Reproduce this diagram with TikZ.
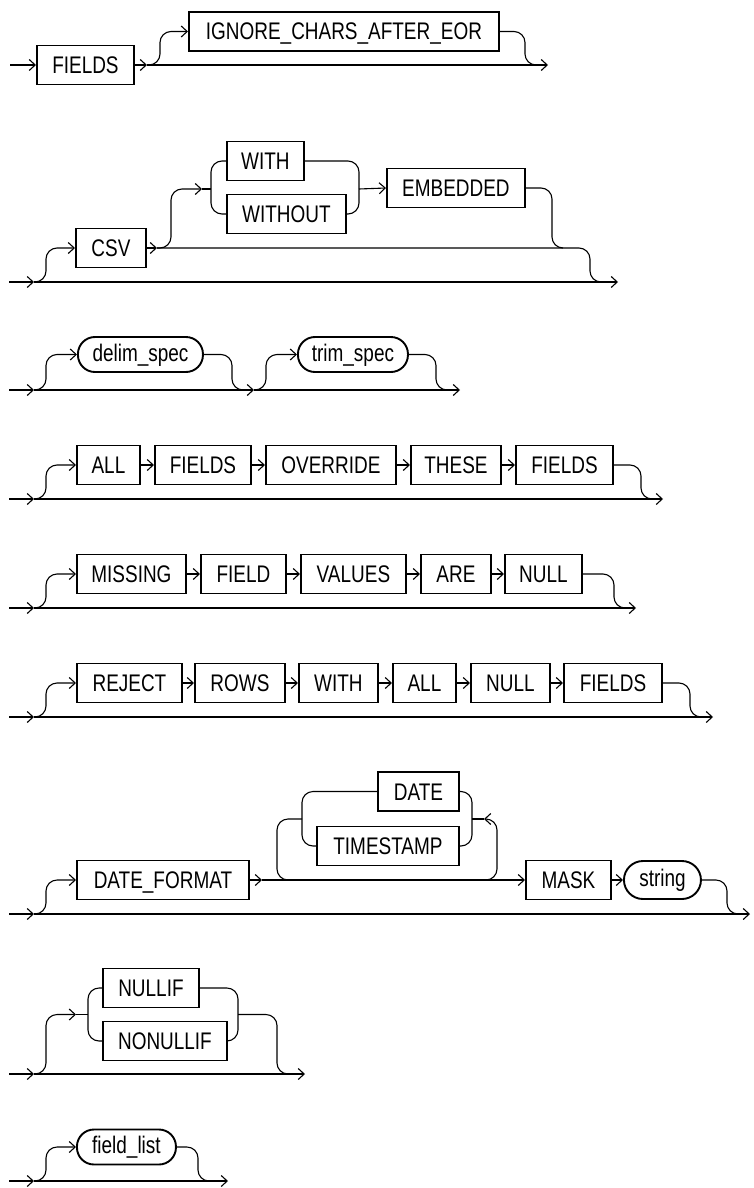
\documentclass[tikz,border=0pt]{standalone}
\usepackage{fontspec}
\setmainfont{Liberation Sans}[FakeStretch=0.79]
\usetikzlibrary{arrows.meta}

\begin{document}
\begin{tikzpicture}[x=1pt, y=-1pt,
		font=\fontsize{24}{28}\selectfont,
		>={Straight Barb[length=6pt,width=11pt]},
		rail/.style={line width=1.1pt, rounded corners=11pt},
		kw/.style={draw, line width=1.9pt, rectangle, minimum height=39pt, inner xsep=0pt, text height=17pt, text depth=0pt, anchor=west},
		ref/.style={draw, line width=1.9pt, rectangle, rounded corners=17pt, minimum height=35pt, inner xsep=0pt, text height=16.5pt, text depth=3pt, anchor=west}]
			% Rows, boxes and rails:
			\useasboundingbox (0,0) rectangle (753,1188);
			\coordinate (S1) at (10,65);
			\node[kw, minimum width=97pt](FIELDS1) at (36,65){FIELDS};
			\coordinate (J1) at (147,65);
			\node[kw, minimum width=310pt](IGNORE) at (188,31.5){IGNORE\_CHARS\_AFTER\_EOR};
			\coordinate (E1) at (548,65);
			\draw[rail, ->] (S1) -- (FIELDS1.west);
			\draw[rail, ->] (FIELDS1.east) -- (J1);
			\draw[rail, ->] (J1) -| (160,31.5) -- (IGNORE.west);
			\draw[rail, ->] (J1) -- (E1);
			\draw[rail] (IGNORE.east) -| (525,65) -- (536,65);
			\coordinate (S2) at (9,282);
			\coordinate (B2) at (34,282);
			\coordinate (E2) at (618,282);
			\node[kw, minimum width=70pt](CSV) at (75,248){CSV};
			\coordinate (J2) at (157,248);
			\node[kw, minimum width=77pt](WITH2) at (226,161){WITH};
			\node[kw, minimum width=119pt](WITHOUT) at (226,214){WITHOUT};
			\node[kw, minimum width=138pt](EMBEDDED) at (386,188){EMBEDDED};
			\draw[rail, ->] (S2) -- (B2);
			\draw[rail, ->] (B2) -- (E2);
			\draw[rail, ->] (B2) -| (46,248) -- (CSV.west);
			\draw[rail, ->] (CSV.east) -- (J2);
			\draw[rail] (J2) -| (590,282) -- (601,282);
			\draw[rail, ->] (J2) -| (171,189) -- (202,189);
			\draw[rail] (202,189) -- (211,189);
			\draw[rail] (WITH2.west) -| (211,189) |- (WITHOUT.west);
			\draw[rail] (WITH2.east) -| (359,189) |- (WITHOUT.east);
			\draw[rail, ->] (359,189) -- (EMBEDDED.west);
			\draw[rail] (EMBEDDED.east) -| (552,248) -- (563,248);
			\coordinate (S3) at (9,390);
			\coordinate (B3) at (34,390);
			\coordinate (M3) at (254,390);
			\coordinate (E3) at (460,390);
			\node[ref, minimum width=125pt](DELIM) at (77,354.5){delim\_spec};
			\node[ref, minimum width=110pt](TRIM) at (297,354.5){trim\_spec};
			\draw[rail, ->] (S3) -- (B3);
			\draw[rail, ->] (B3) -- (M3);
			\draw[rail, ->] (M3) -- (E3);
			\draw[rail, ->] (B3) -| (46,354.5) -- (DELIM.west);
			\draw[rail] (DELIM.east) -| (232,390) -- (243,390);
			\draw[rail, ->] (M3) -| (266,354.5) -- (TRIM.west);
			\draw[rail] (TRIM.east) -| (436,390) -- (447,390);
			\coordinate (S4) at (9,499);
			\coordinate (B4) at (34,499);
			\coordinate (E4) at (663,499);
			\node[kw, minimum width=63pt](ALL4) at (76,465){ALL};
			\node[kw, minimum width=96pt](FIELDS4) at (154,465){FIELDS};
			\node[kw, minimum width=130pt](OVERRIDE) at (265,465){OVERRIDE};
			\node[kw, minimum width=90pt](THESE) at (410,465){THESE};
			\node[kw, minimum width=97pt](FIELDS4B) at (515,465){FIELDS};
			\draw[rail, ->] (S4) -- (B4);
			\draw[rail, ->] (B4) -- (E4);
			\draw[rail, ->] (B4) -| (46,465) -- (ALL4.west);
			\draw[rail, ->] (ALL4.east) -- (FIELDS4.west);
			\draw[rail, ->] (FIELDS4.east) -- (OVERRIDE.west);
			\draw[rail, ->] (OVERRIDE.east) -- (THESE.west);
			\draw[rail, ->] (THESE.east) -- (FIELDS4B.west);
			\draw[rail] (FIELDS4B.east) -| (641,499) -- (652,499);
			\coordinate (S5) at (9,608);
			\coordinate (B5) at (34,608);
			\coordinate (E5) at (636,608);
			\node[kw, minimum width=109pt](MISSING) at (76,574){MISSING};
			\node[kw, minimum width=85pt](FIELD) at (200,574){FIELD};
			\node[kw, minimum width=105pt](VALUES) at (300,574){VALUES};
			\node[kw, minimum width=70pt](ARE) at (420,574){ARE};
			\node[kw, minimum width=77pt](NULL5) at (504,574){NULL};
			\draw[rail, ->] (S5) -- (B5);
			\draw[rail, ->] (B5) -- (E5);
			\draw[rail, ->] (B5) -| (46,574) -- (MISSING.west);
			\draw[rail, ->] (MISSING.east) -- (FIELD.west);
			\draw[rail, ->] (FIELD.east) -- (VALUES.west);
			\draw[rail, ->] (VALUES.east) -- (ARE.west);
			\draw[rail, ->] (ARE.east) -- (NULL5.west);
			\draw[rail] (NULL5.east) -| (614,608) -- (625,608);
			\coordinate (S6) at (9,717);
			\coordinate (B6) at (34,717);
			\coordinate (E6) at (713,717);
			\node[kw, minimum width=105pt](REJECT) at (76,683){REJECT};
			\node[kw, minimum width=90pt](ROWS) at (194,683){ROWS};
			\node[kw, minimum width=79pt](WITH6) at (298,683){WITH};
			\node[kw, minimum width=63pt](ALL6) at (392,683){ALL};
			\node[kw, minimum width=79pt](NULL6) at (470,683){NULL};
			\node[kw, minimum width=98pt](FIELDS6) at (563,683){FIELDS};
			\draw[rail, ->] (S6) -- (B6);
			\draw[rail, ->] (B6) -- (E6);
			\draw[rail, ->] (B6) -| (46,683) -- (REJECT.west);
			\draw[rail, ->] (REJECT.east) -- (ROWS.west);
			\draw[rail, ->] (ROWS.east) -- (WITH6.west);
			\draw[rail, ->] (WITH6.east) -- (ALL6.west);
			\draw[rail, ->] (ALL6.east) -- (NULL6.west);
			\draw[rail, ->] (NULL6.east) -- (FIELDS6.west);
			\draw[rail] (FIELDS6.east) -| (690,717) -- (701,717);
			\coordinate (S7) at (9,914);
			\coordinate (B7) at (34,914);
			\coordinate (E7) at (750,914);
			\node[kw, minimum width=172pt](DATEFMT) at (76,880){DATE\_FORMAT};
			\coordinate (J7) at (262,880);
			\node[kw, minimum width=81pt](DATE) at (377,791.5){DATE};
			\node[kw, minimum width=142pt](TIMESTAMP) at (316,846){TIMESTAMP};
			\node[kw, minimum width=85pt](MASK) at (525,880){MASK};
			\node[ref, minimum width=77pt, minimum height=38pt, rounded corners=19pt](STRING) at (623,880){string};
			\draw[rail, ->] (S7) -- (B7);
			\draw[rail, ->] (B7) -- (E7);
			\draw[rail, ->] (B7) -| (46,880) -- (DATEFMT.west);
			\draw[rail, ->] (DATEFMT.east) -- (J7);
			\draw[rail, ->] (J7) -- (MASK.west);
			\draw[rail, ->] (MASK.east) -- (STRING.west);
			\draw[rail] (STRING.east) -| (727,914) -- (738,914);
			\draw[rail] (302,819) -| (277,850) |- (290,880);
			\draw[rail] (DATE.west) -| (302,819) |- (TIMESTAMP.west);
			\draw[rail] (DATE.east) -| (472,819) |- (TIMESTAMP.east);
			\draw[rail, ->] (486,880) -| (497,850) |- (484,819);
			\draw[rail] (484,819) -- (472,819);
			\coordinate (S8) at (9,1074);
			\coordinate (B8) at (34,1074);
			\coordinate (E8) at (305,1074);
			\node[kw, minimum width=96pt](NULLIF) at (102,988){NULLIF};
			\node[kw, minimum width=124pt](NONULLIF) at (102,1041){NONULLIF};
			\draw[rail, ->] (S8) -- (B8);
			\draw[rail, ->] (B8) -- (E8);
			\draw[rail, ->] (B8) -| (46,1014.5) -- (76,1014.5);
			\draw[rail] (76,1014.5) -- (88,1014.5);
			\draw[rail] (NULLIF.west) -| (88,1014.5) |- (NONULLIF.west);
			\draw[rail] (NULLIF.east) -| (238,1014.5) |- (NONULLIF.east);
			\draw[rail] (238,1014.5) -| (277,1074) -- (288,1074);
			\coordinate (S9) at (9,1181);
			\coordinate (B9) at (34,1181);
			\coordinate (E9) at (228,1181);
			\node[ref, minimum width=99pt](FIELDLIST) at (76,1147){field\_list};
			\draw[rail, ->] (S9) -- (B9);
			\draw[rail, ->] (B9) -- (E9);
			\draw[rail, ->] (B9) -| (46,1147) -- (FIELDLIST.west);
			\draw[rail] (FIELDLIST.east) -| (198,1181) -- (209,1181);
		\end{tikzpicture}
\end{document}
